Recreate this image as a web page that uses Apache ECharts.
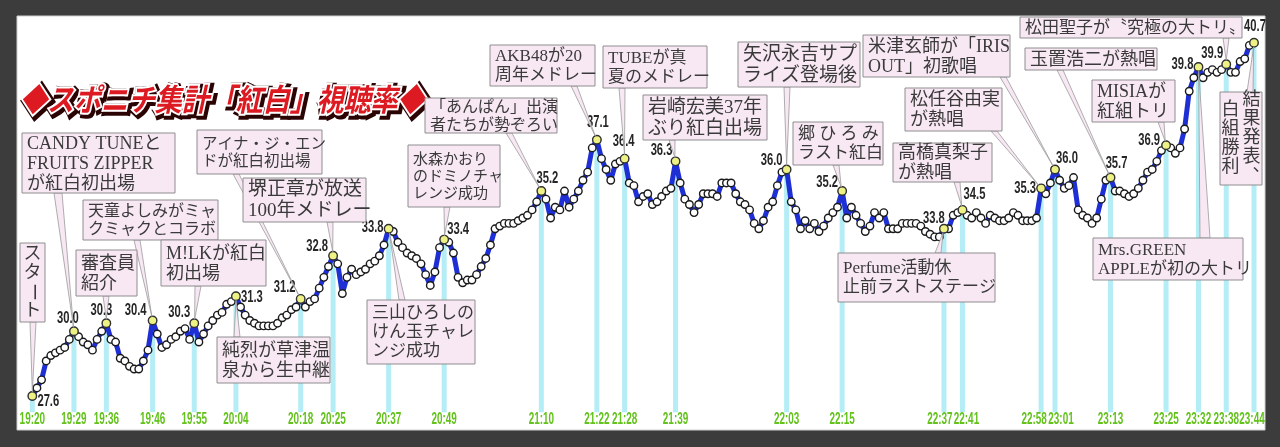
<!DOCTYPE html>
<html><head><meta charset="utf-8">
<script src="https://cdn.jsdelivr.net/npm/echarts@6/dist/echarts.min.js"></script>
<style>html,body{margin:0;padding:0;background:#3c3c3c;}#c{width:1280px;height:447px;}</style>
</head><body><div id="c"></div>
<script>
// ---- data ----
const startTime = '19:20';
// minute-by-minute rating (%), 19:20 .. 23:44
const ratings = [
  27.6, 27.9, 28.2, 28.9, 29.1, 29.2, 29.3, 29.4, 29.7, 30.0,
  29.8, 29.6, 29.5, 29.3, 29.7, 30.0, 30.3, 29.7, 29.6, 29.0,
  28.9, 28.7, 28.6, 28.6, 28.9, 29.3, 30.4, 29.9, 29.4, 29.5,
  29.7, 29.8, 30.0, 30.1, 29.7, 30.3, 29.6, 29.9, 30.2, 30.4,
  30.6, 30.7, 31.0, 31.1, 31.3, 30.9, 30.6, 30.4, 30.3, 30.2,
  30.2, 30.2, 30.2, 30.3, 30.5, 30.6, 30.8, 30.9, 31.2, 30.9,
  31.1, 31.2, 31.6, 32.0, 32.4, 32.8, 32.5, 31.4, 32.0, 32.3,
  32.1, 32.2, 32.3, 32.5, 32.6, 32.8, 33.2, 33.8, 33.7, 33.3,
  33.1, 32.9, 32.8, 32.7, 32.5, 32.1, 31.7, 32.2, 33.1, 33.4,
  33.3, 32.9, 32.0, 31.8, 31.9, 31.9, 32.1, 32.4, 32.7, 33.2,
  33.8, 33.9, 34.0, 34.0, 34.0, 34.1, 34.2, 34.3, 34.5, 34.8,
  35.2, 34.9, 34.2, 34.6, 34.5, 35.2, 34.6, 34.9, 35.2, 35.6,
  35.9, 36.8, 37.1, 36.4, 36.0, 35.6, 36.2, 36.3, 36.4, 35.5,
  35.4, 34.8, 35.0, 35.1, 34.7, 34.8, 35.0, 35.2, 35.3, 36.3,
  35.5, 34.9, 34.7, 34.4, 34.7, 35.1, 35.1, 35.1, 35.0, 35.5,
  35.5, 35.5, 35.1, 34.8, 34.7, 34.5, 34.0, 33.8, 34.1, 34.6,
  34.8, 35.4, 35.9, 36.0, 34.8, 34.5, 33.8, 34.1, 33.8, 34.0,
  33.7, 33.9, 34.2, 34.4, 34.6, 35.2, 34.2, 34.6, 34.3, 34.0,
  33.7, 33.9, 34.4, 34.2, 34.4, 33.8, 33.8, 33.8, 34.0, 34.0,
  34.0, 34.0, 33.9, 33.7, 33.6, 33.5, 33.5, 33.8, 33.8, 34.3,
  34.4, 34.5, 34.3, 34.2, 34.4, 34.2, 34.0, 34.3, 34.2, 34.1,
  34.1, 34.2, 34.4, 34.3, 34.1, 34.1, 34.1, 34.2, 35.3, 35.1,
  35.5, 36.0, 35.6, 35.3, 35.4, 35.7, 34.5, 34.3, 34.2, 34.0,
  34.2, 34.9, 35.6, 35.7, 35.2, 35.2, 35.1, 35.0, 35.1, 35.3,
  35.6, 35.9, 36.0, 36.3, 36.7, 36.9, 36.8, 36.6, 36.8, 37.5,
  38.9, 39.4, 39.8, 39.4, 39.6, 39.7, 39.6, 39.7, 39.9, 39.6,
  39.6, 40.0, 40.1, 40.6, 40.7
];
// tick labels (highlighted minutes)
const tickTimes = ['19:20','19:29','19:36','19:46','19:55','20:04','20:18','20:25','20:37','20:49',
  '21:10','21:22','21:28','21:39','22:03','22:15','22:37','22:41','22:58','23:01',
  '23:13','23:25','23:32','23:38','23:44'];
// annotation texts, attached to the tick times above (same order)
const annotationTexts = [
  'スタート',
  'CANDY TUNEと\nFRUITS ZIPPER\nが紅白初出場',
  '審査員\n紹介',
  '天童よしみがミャ\nクミャクとコラボ',
  'M!LKが紅白\n初出場',
  '純烈が草津温\n泉から生中継',
  'アイナ・ジ・エン\nドが紅白初出場',
  '堺正章が放送\n100年メドレー',
  '三山ひろしの\nけん玉チャレ\nンジ成功',
  '水森かおり\nのドミノチャ\nレンジ成功',
  '「あんぱん」出演\n者たちが勢ぞろい',
  'AKB48が20\n周年メドレー',
  'TUBEが真\n夏のメドレー',
  '岩崎宏美37年\nぶり紅白出場',
  '矢沢永吉サプ\nライズ登場後',
  '郷 ひ ろ み\nラスト紅白',
  'Perfume活動休\n止前ラストステージ',
  '高橋真梨子\nが熱唱',
  '松任谷由実\nが熱唱',
  '米津玄師が「IRIS\nOUT」初歌唱',
  '玉置浩二が熱唱',
  'MISIAが\n紅組トリ',
  'Mrs.GREEN\nAPPLEが初の大トリ',
  '松田聖子が〝究極の大トリ〟',
  '結果発表、\n白組勝利'
];
const titleText = '◆スポニチ集計「紅白」視聴率◆';

// ---- layout (pixels / styles) ----
// [x, y, w, h, fontSize, leaderBaseX, leaderHalfWidth, vertical]
const annotationLayout = [
  [20, 243, 25, 79, 18, 33, 3, true],
  [22, 133, 153, 60, 18, 58, 4],
  [76, 250, 61, 46, 18, 106, 3],
  [83, 200, 135, 40, 16, 137, 3],
  [161, 240, 105, 46, 18, 198, 3],
  [217, 337, 113, 46, 18, 237, 3],
  [197, 130, 125, 44, 15.5, 236, 3],
  [243, 178, 123, 44, 19, 330, 3],
  [367, 300, 108, 64, 17, 402, 3],
  [408, 145, 92, 62, 15, 447, 3],
  [425, 98, 132, 35, 16, 509, 3],
  [490, 45, 105, 41, 17, 574, 3],
  [603, 46, 104, 42, 17, 622, 3],
  [643, 95, 124, 45, 19, 672, 3],
  [738, 42, 122, 45, 19, 787, 3],
  [793, 122, 90, 43, 17, 836, 3],
  [838, 253, 157, 49, 17, 938, 3],
  [893, 143, 99, 39, 18, 957, 3],
  [905, 88, 97, 43, 18, 994, 3],
  [863, 35, 147, 42, 18, 1003, 3],
  [1025, 48, 132, 22, 18, 1060, 3],
  [1092, 80, 83, 42, 18, 1161, 3],
  [1093, 238, 150, 42, 17, 1205, 5],
  [1020, 17, 222, 21, 17, 1226, 3],
  [1220, 92, 42, 93, 18, 1250, 3, true]
];
// value label offsets (label centre minus point), per tick
const peakLabelOffsets = [
  [16,6],[-6,-13],[-5,-13],[-17,-10],[-15,-11],[16,1],[-16,-11],[-16,-9],[-16,-1],[14,-10],
  [6,-12],[1,-17],[-1,-17],[-14,-11],[-15,-9],[-15,-8],[-10,-10],[12,-15],[-16,0],[12,-11],
  [6,-14],[-17,-5],[-16,-2],[-14,-11],[1,-16]
];
// small horizontal nudges of tick labels so close neighbours do not collide
const tickLabelNudge = [0,0,0,0,0,0,0,0,0,0, 0,0,0,0,0,0,-4,4,-7,6, 0,0,0,0,-2];

const FONT_NUM = "'Liberation Sans','Arial',sans-serif";
const FONT_BOX = "'Liberation Serif','Noto Sans CJK JP',serif";
const FONT_JP = "'Noto Sans CJK JP',sans-serif";
const BOX_FILL = '#f8e8f4';
const BOX_STROKE = '#8e8e8e';
const TEXT_COL = '#3a3a3a';

// ---- build ----
const categories = [];
{
  const [h0, m0] = startTime.split(':').map(Number);
  for (let i = 0; i < ratings.length; i++) {
    const t = h0 * 60 + m0 + i;
    categories.push(Math.floor(t / 60) + ':' + String(t % 60).padStart(2, '0'));
  }
}
const tickIdx = tickTimes.map(t => categories.indexOf(t));
const tickSet = new Set(tickIdx);
const dropData = ratings.map((v, i) => tickSet.has(i) ? v : '-');
const peakData = tickIdx.map(i => [i, ratings[i]]);

const chart = echarts.init(document.getElementById('c'), null, { renderer: 'canvas' });

const staticGraphics = [
  { type: 'rect', shape: { x: 17, y: 16, width: 1248, height: 414 }, style: { fill: '#ffffff', stroke: '#cfcfcf', lineWidth: 1 }, z: -5, silent: true },
  { type: 'text', x: 22, y: 101, scaleX: 0.87, z: 60, style: { text: titleText, fontSize: 31, fontWeight: 'bold', fontStyle: 'italic', fontFamily: FONT_JP, fill: '#3a0505', stroke: '#2a0303', lineWidth: 8, align: 'left', verticalAlign: 'middle' } },
  { type: 'text', x: 20, y: 99, scaleX: 0.87, z: 61, style: { text: titleText, fontSize: 31, fontWeight: 'bold', fontStyle: 'italic', fontFamily: FONT_JP, fill: '#dd1a22', stroke: '#ffffff', lineWidth: 4, align: 'left', verticalAlign: 'middle' } }
];

const option = {
  backgroundColor: '#3c3c3c',
  animation: false,
  grid: { left: 32.3, right: 26, top: 34.6, bottom: 34.8, containLabel: false, outerBoundsMode: 'none' },
  xAxis: {
    type: 'category', data: categories, boundaryGap: false,
    axisLine: { show: false }, axisTick: { show: false }, splitLine: { show: false },
    axisLabel: { show: false }
  },
  yAxis: { type: 'value', min: 27, max: 41, show: false },
  series: [
    { type: 'bar', data: dropData, barWidth: 5, itemStyle: { color: '#b4edf5' }, silent: true, z: 1 },
    {
      type: 'line', data: ratings, symbol: 'circle', symbolSize: 7.5, showAllSymbol: true,
      lineStyle: { color: '#1e2fd6', width: 5 },
      itemStyle: { color: '#ffffff', borderColor: '#1a1a1a', borderWidth: 1.4 },
      silent: true, z: 3
    },
    {
      type: 'scatter', data: peakData, symbolSize: 8.5, silent: true, z: 4,
      itemStyle: { color: '#eef285', borderColor: '#333', borderWidth: 1.4, opacity: 1 }
    }
  ],
  graphic: staticGraphics
};
chart.setOption(option);

const extra = [];
// tick labels (condensed) and value labels, positioned through the chart's scales
tickIdx.forEach((i, k) => {
  const [px, py] = chart.convertToPixel({ gridIndex: 0 }, [i, ratings[i]]);
  const [, by] = chart.convertToPixel({ gridIndex: 0 }, [i, 27]);
  extra.push({ type: 'text', x: px + tickLabelNudge[k], y: by + 7, scaleX: 0.62, z: 50, silent: true,
    style: { text: tickTimes[k], fontSize: 16, fontWeight: 'bold', fontFamily: FONT_NUM, fill: '#63c21b', align: 'center', verticalAlign: 'middle' } });
  const [ox, oy] = peakLabelOffsets[k];
  extra.push({ type: 'text', x: px + ox, y: py + oy, scaleX: 0.7, z: 55, silent: true,
    style: { text: ratings[i].toFixed(1), fontSize: 16, fontWeight: 'bold', fontFamily: FONT_NUM, fill: '#262626', align: 'center', verticalAlign: 'middle' } });
});

// annotations with leader wedges pointing to data points
annotationTexts.forEach((txt, k) => {
  const [bx, by, bw, bh, fs, baseX, hw, vertical] = annotationLayout[k];
  const idx = categories.indexOf(tickTimes[k]);
  const [px, py] = chart.convertToPixel({ gridIndex: 0 }, [idx, ratings[idx]]);
  const below = py > by + bh;
  const ey = below ? by + bh : by;
  const dx = px - baseX, dy = py - ey;
  const len = Math.hypot(dx, dy) || 1;
  const ax = px - dx / len * 4, ay = py - dy / len * 4;
  extra.push({ type: 'polygon', shape: { points: [[baseX - hw, ey], [baseX + hw, ey], [ax, ay]] },
    style: { fill: BOX_FILL, stroke: '#9a9a9a', lineWidth: 0.8 }, z: 90, silent: true });
  extra.push({ type: 'rect', shape: { x: bx, y: by, width: bw, height: bh },
    style: { fill: BOX_FILL, stroke: BOX_STROKE, lineWidth: 1 }, z: 95, silent: true });
  if (vertical) {
    const cols = txt.split('\n');
    const colW = fs + 3;
    const step = fs + 1;
    const totalW = cols.length * colW;
    const x0 = bx + bw / 2 + totalW / 2 - colW / 2;
    cols.forEach((col, ci) => {
      const cx = x0 - ci * colW;
      const chars = Array.from(col);
      const y0 = by + bh / 2 - chars.length * step / 2 + step / 2;
      chars.forEach((ch, j) => {
        let ox = 0, oy = 0, rot = 0;
        if (ch === 'ー') rot = -Math.PI / 2;
        if (ch === '、') { ox = fs * 0.55; oy = -fs * 0.55; }
        extra.push({ type: 'text', x: cx + ox, y: y0 + j * step + oy, rotation: rot, z: 96, silent: true,
          style: { text: ch, fontSize: fs, fontFamily: FONT_BOX, fill: TEXT_COL, align: 'center', verticalAlign: 'middle' } });
      });
    });
  } else {
    extra.push({ type: 'text', x: bx + 5, y: by + bh / 2 + 1, z: 96, silent: true,
      style: { text: txt, fontSize: fs, lineHeight: Math.round(fs * 1.12), fontFamily: FONT_BOX, fill: TEXT_COL, align: 'left', verticalAlign: 'middle' } });
  }
});
chart.setOption({ graphic: staticGraphics.concat(extra) });
</script>
</body></html>
